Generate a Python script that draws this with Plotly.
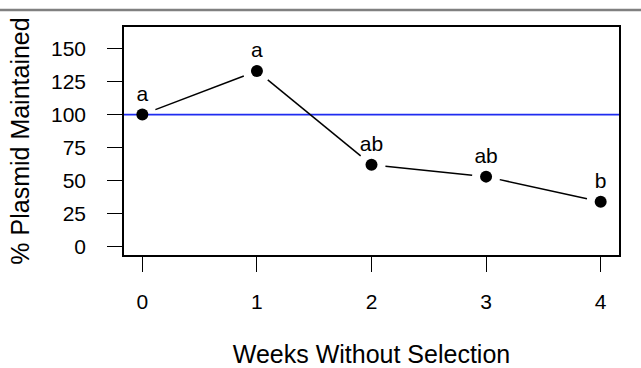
import math
import plotly.graph_objects as go

weeks = [0, 1, 2, 3, 4]
plasmid_pct = [100, 133, 62, 53, 34]
sig_letters = ["a", "a", "ab", "ab", "b"]
reference_level = 100
y_ticks = [0, 25, 50, 75, 100, 125, 150]
x_ticks = [0, 1, 2, 3, 4]

W, H = 641, 368
ML, MR, MT, MB = 124, 22, 27, 113
XR = [-0.16, 4.16]
YR = [-6.4, 166.4]
pw, ph = W - ML - MR, H - MT - MB
sx = pw / (XR[1] - XR[0])
sy = ph / (YR[1] - YR[0])
GAP = 14  # px gap between line segments and points (R type="b")

seg_x, seg_y = [], []
for i in range(len(weeks) - 1):
    x0, y0, x1, y1 = weeks[i], plasmid_pct[i], weeks[i + 1], plasmid_pct[i + 1]
    dxp, dyp = (x1 - x0) * sx, (y1 - y0) * sy
    L = math.hypot(dxp, dyp)
    f = GAP / L
    seg_x += [x0 + (x1 - x0) * f, x1 - (x1 - x0) * f, None]
    seg_y += [y0 + (y1 - y0) * f, y1 - (y1 - y0) * f, None]

FAM = "Liberation Sans, Arial, sans-serif"
fig = go.Figure()
fig.add_trace(go.Scatter(x=XR, y=[reference_level, reference_level], mode="lines",
                         line=dict(color="#1f2cf0", width=1.6), hoverinfo="skip"))
fig.add_trace(go.Scatter(x=seg_x, y=seg_y, mode="lines",
                         line=dict(color="black", width=1.5), hoverinfo="skip"))
fig.add_trace(go.Scatter(x=weeks, y=plasmid_pct, mode="markers+text",
                         marker=dict(color="black", size=12),
                         text=sig_letters, textposition="top center",
                         textfont=dict(size=21, color="black", family=FAM)))

fig.add_shape(type="line", xref="paper", yref="paper", x0=-0.3, x1=1.1,
              y0=1 + 17 / ph, y1=1 + 17 / ph, line=dict(color="#808080", width=2.5))

fig.update_layout(
    width=W, height=H, margin=dict(l=ML, r=MR, t=MT, b=MB, autoexpand=False),
    paper_bgcolor="white", plot_bgcolor="white", showlegend=False,
    font=dict(family=FAM, color="black"),
    xaxis=dict(range=XR, tickvals=x_ticks, ticktext=[str(v) for v in x_ticks],
               showgrid=False, zeroline=False, showline=True, mirror=True,
               linecolor="black", linewidth=1.5, ticks="outside", ticklen=15,
               tickwidth=1.3, tickcolor="black", tickfont=dict(size=21),
               ticklabelstandoff=12, automargin=False,
               title=dict(text="Weeks Without Selection", font=dict(size=25), standoff=34)),
    yaxis=dict(range=YR, tickvals=y_ticks, ticktext=[str(v) for v in y_ticks],
               showgrid=False, zeroline=False, showline=True, mirror=True,
               linecolor="black", linewidth=1.5, ticks="outside", ticklen=15,
               tickwidth=1.3, tickcolor="black", tickfont=dict(size=21),
               ticklabelstandoff=17, automargin=False,
               title=dict(text="% Plasmid Maintained", font=dict(size=25), standoff=14)),
)

fig.write_html("out.html", config={"displayModeBar": False},
               post_script="document.body.style.margin='0';document.body.style.overflow='hidden';")
